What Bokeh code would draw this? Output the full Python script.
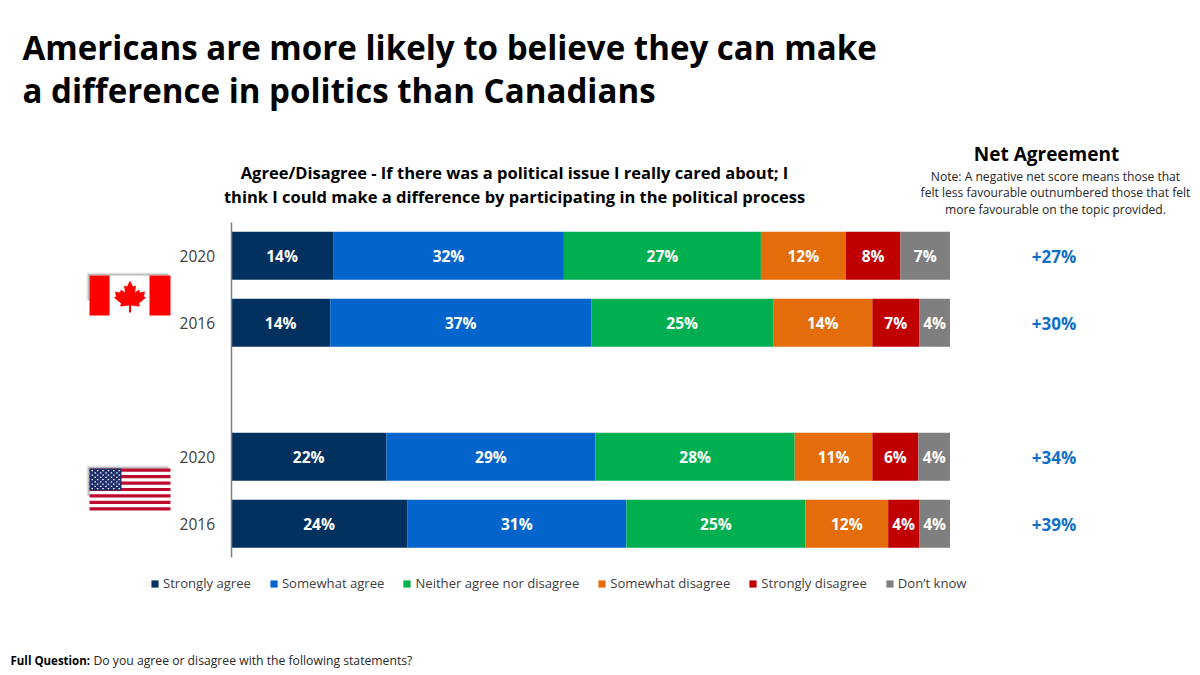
from bokeh.plotting import figure
from bokeh.core.properties import value
from bokeh.models import (ColumnDataSource, Label, LabelSet, Legend, LegendItem, Range1d,
                          FixedTicker, BoxAnnotation, PolyAnnotation)
from bokeh.embed import file_html
from bokeh.resources import INLINE

series = ["Strongly agree", "Somewhat agree", "Neither agree nor disagree",
          "Somewhat disagree", "Strongly disagree", "Don\u2019t know"]
colors = ["#03315F", "#0365CC", "#02AF50", "#E46C0A", "#C00000", "#7F7F7F"]
years = ["2020", "2016", "2020", "2016"]
slots = [0.5, 1.5, 3.5, 4.5]
strongly_agree = [14.2, 13.8, 21.6, 24.5]
somewhat_agree = [32.1, 36.3, 29.1, 30.5]
neither = [27.4, 25.3, 27.7, 24.9]
somewhat_disagree = [11.8, 13.8, 10.8, 11.5]
strongly_disagree = [7.6, 6.5, 6.4, 4.3]
dont_know = [6.9, 4.3, 4.4, 4.3]
label_rows = [[14, 14, 22, 24], [32, 37, 29, 31], [27, 25, 28, 25],
              [12, 14, 11, 12], [8, 7, 6, 4], [7, 4, 4, 4]]
net = ["+27%", "+30%", "+34%", "+39%"]
FONT = "Open Sans"
W, H = 1200, 675

keys = ["s%d" % i for i in range(6)]
rows = [strongly_agree, somewhat_agree, neither, somewhat_disagree, strongly_disagree, dont_know]
data = {"y": slots}
for k, r in zip(keys, rows):
    data[k] = r
source = ColumnDataSource(data)

# the frame fills the whole canvas; the ranges put 0-100 % on px 230.5-949.5 and the 5 rows on px 221.7-556.7
PXX, PXY = 7.19, 67.0
X0, Y0 = 230.5, 221.7
p = figure(width=W, height=H, output_backend="svg", toolbar_location=None,
           x_range=Range1d(-X0 / PXX, (W - X0) / PXX),
           y_range=Range1d((H - Y0) / PXY, -Y0 / PXY),
           min_border=0, outline_line_color=None)
p.xgrid.visible = False
p.ygrid.visible = False
p.xaxis.visible = False
ya = p.yaxis[0]
ya.fixed_location = 0
ya.bounds = (0, 5)
ya.ticker = FixedTicker(ticks=slots)
ya.major_label_overrides = {s: y for s, y in zip(slots, years)}
ya.major_tick_line_color = None
ya.minor_tick_line_color = None
ya.axis_line_color = "#7F7F7F"
ya.axis_line_width = 1.5
ya.major_label_text_font = FONT
ya.major_label_text_font_size = "15.5px"
ya.major_label_text_color = "#404040"
ya.major_label_standoff = 10

rs = p.hbar_stack(keys, y="y", height=0.716, source=source, color=colors, line_color=None)

left = [0.0] * 4
for i, r in enumerate(rows):
    mids = [l + v / 2 for l, v in zip(left, r)]
    left = [l + v for l, v in zip(left, r)]
    s = ColumnDataSource(dict(x=mids, y=slots, t=["%d%%" % v for v in label_rows[i]]))
    p.add_layout(LabelSet(x="x", y="y", text="t", source=s, text_align="center", text_baseline="middle",
                          text_color="#FFFFFF", text_font=value(FONT), text_font_style="bold",
                          text_font_size="15.5px"))

legend = Legend(items=[LegendItem(label=n, renderers=[r]) for n, r in zip(series, rs)],
                orientation="horizontal", border_line_color=None, background_fill_alpha=0,
                label_text_font=FONT, label_text_font_size="13.1px", label_text_color="#404040",
                glyph_width=9, glyph_height=9, label_standoff=4, spacing=18, padding=0, margin=0,
                label_height=14, location=(150, H - 592))
p.add_layout(legend, "center")


def text(t, x, y, size, bold=False, align="left", color="#000000"):
    p.add_layout(Label(x=x, y=H - y, x_units="screen", y_units="screen", text=t,
                       text_font=FONT, text_font_size=size, text_align=align, text_baseline="middle",
                       text_font_style="bold" if bold else "normal", text_color=color))


text("Americans are more likely to believe they can make", 22, 47, "33.1px", True)
text("a difference in politics than Canadians", 22, 90, "33.1px", True)
text("Agree/Disagree - If there was a political issue I really cared about; I", 514, 172, "16.5px", True, "center")
text("think I could make a difference by participating in the political process", 514, 196, "16.5px", True, "center")
text("Net Agreement", 1046, 153, "19px", True, "center")
text("Note: A negative net score means those that", 1055, 176, "12.1px", False, "center", "#262626")
text("felt less favourable outnumbered those that felt", 1055, 192, "12.1px", False, "center", "#262626")
text("more favourable on the topic provided.", 1055, 209, "12.1px", False, "center", "#262626")
for v, yy in zip(net, [256, 323, 457, 524]):
    text(v, 1053.5, yy, "17px", True, "center", "#0F6FC6")
text("Full Question:", 10, 660, "11.5px", True)
text("Do you agree or disagree with the following statements?", 93, 660, "12.2px", False, "left", "#262626")


def box(x0, y0, x1, y1, color, alpha=1.0):
    p.add_layout(BoxAnnotation(left=x0, right=x1, top=y0, bottom=y1,
                               left_units="canvas", right_units="canvas", top_units="canvas",
                               bottom_units="canvas", fill_color=color, fill_alpha=alpha,
                               line_color=None, level="overlay"))


# flag shadows
for d, a in [(3, 0.10), (2, 0.15), (1, 0.25)]:
    box(89 - d, 275 - d, 168, 300, "#404040", a)
    box(89 - d, 468 - d, 168, 495, "#404040", a)
# Canada
box(89, 275, 170, 315, "#FFFFFF")
box(89, 275, 109, 315, "#FF0000")
box(149, 275, 170, 315, "#FF0000")
leaf = [(0, -15), (3, -9), (6, -10), (5, -3), (9, -6), (10, -3), (15, -4), (14, 1), (16, 2), (9, 8),
        (10, 11), (1, 10), (1, 17), (-1, 17), (-1, 10), (-10, 11), (-9, 8), (-16, 2), (-14, 1),
        (-15, -4), (-10, -3), (-9, -6), (-5, -3), (-6, -10), (-3, -9)]
p.add_layout(PolyAnnotation(xs=[129.5 + a for a, b in leaf], ys=[295 + b for a, b in leaf],
                            xs_units="canvas", ys_units="canvas", fill_color="#FF0000", fill_alpha=1,
                            line_color=None, level="overlay"))
# USA
box(89, 468, 170, 510, "#FFFFFF")
for i in range(7):
    yy = 468 + i * 42 / 6.5
    box(89, yy, 170, yy + 42 / 13, "#BF0A30")
box(89, 468, 121, 490, "#1E2D6B")
for r in range(9):
    n = 6 if r % 2 == 0 else 5
    off = 2 if r % 2 == 0 else 5
    for c in range(n):
        sx = 89 + off + c * 5.4
        sy = 469.5 + r * 2.25
        box(sx, sy, sx + 1.5, sy + 1.3, "#FFFFFF")

open("out.html", "w").write(file_html(p, INLINE))
